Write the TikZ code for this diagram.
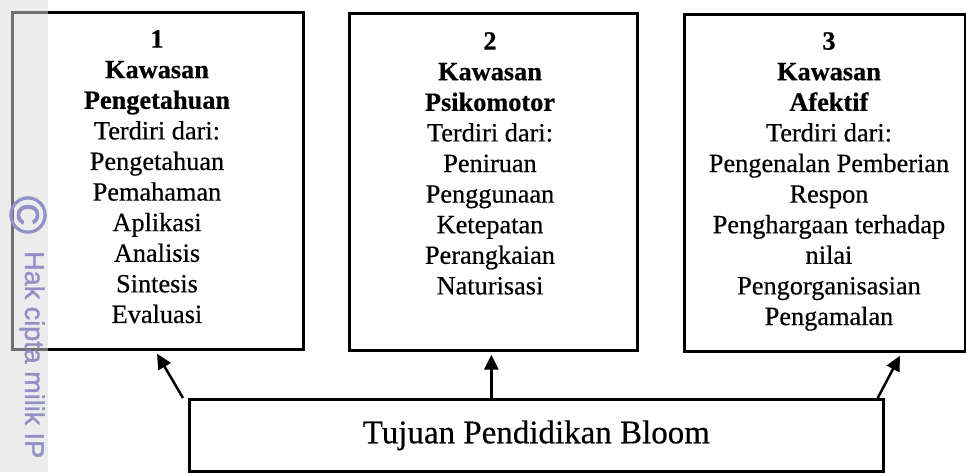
\documentclass[tikz,border=0pt]{standalone}
\usepackage{fontspec}
\setmainfont{Liberation Serif}[FakeBold=0.5]
\newfontfamily\wmfont{Liberation Sans}[FakeBold=1.5]
\usetikzlibrary{arrows.meta,calc}
\definecolor{bandgray}{RGB}{218,218,218}
\definecolor{wmblue}{RGB}{145,145,198}
\begin{document}
\begin{tikzpicture}[x=1pt,y=-1pt,
  panel/.style={draw,line width=2.7pt,rectangle,inner sep=0pt,anchor=north west},
  lines/.style={align=center,inner sep=0pt,anchor=north,
    font=\fontsize{26.3}{30.6}\selectfont},
  link/.style={line width=2.5pt,-{Triangle[length=15pt,width=14pt]}},
  wm/.style={text=wmblue,inner sep=0pt,rotate=-90}]
\useasboundingbox (0,0) rectangle (966,472);

% the three domains
\node[panel,minimum width=291pt,minimum height=337pt] (b1) at (11,11) {};
\node[panel,minimum width=288pt,minimum height=337pt] (b2) at (348,12) {};
\node[panel,minimum width=281pt,minimum height=337pt] (b3) at (683,13) {};

\node[lines] (t1) at (157,30) {\textbf{1}\\\textbf{Kawasan}\\\textbf{Pengetahuan}\\
  Terdiri dari:\\Pengetahuan\\Pemahaman\\Aplikasi\\Analisis\\Sintesis\\Evaluasi};
\node[lines] (t2) at (490,32) {\textbf{2}\\\textbf{Kawasan}\\\textbf{Psikomotor}\\
  Terdiri dari:\\Peniruan\\Penggunaan\\Ketepatan\\Perangkaian\\Naturisasi};
\node[lines] (t3) at (829,32) {\textbf{3}\\\textbf{Kawasan}\\\textbf{Afektif}\\
  Terdiri dari:\\Pengenalan Pemberian\\Respon\\Penghargaan terhadap\\nilai\\
  Pengorganisasian\\Pengamalan};

% the goal box
\node[panel,minimum width=694pt,minimum height=72pt,
  font=\fontsize{33}{33}\selectfont] (bloom) at (188,398) {Tujuan Pendidikan Bloom};

% connectors
\coordinate (e1) at ($(b1.south west)+(146,3)$);
\coordinate (e2) at ($(b2.south)+(-2,3)$);
\coordinate (e3) at ($(b3.south west)+(217,3)$);
\draw[link] ($(bloom.north west)+(-5,0)$) -- (e1);
\draw[link] (e2 |- bloom.north) -- (e2);
\draw[link] ($(bloom.north east)+(-7,0)$) -- (e3);

% copyright stamp along the left margin
\fill[bandgray,fill opacity=0.51] (0,0) rectangle (48,472);
\node[wm,font=\wmfont\fontsize{52}{52}\selectfont] (wmc) at (28,215) {©};
\node[wm,anchor=west,font=\wmfont\fontsize{27}{27}\selectfont] (wmt) at (32,251)
  {Hak cipta milik IP};
\end{tikzpicture}
\end{document}
